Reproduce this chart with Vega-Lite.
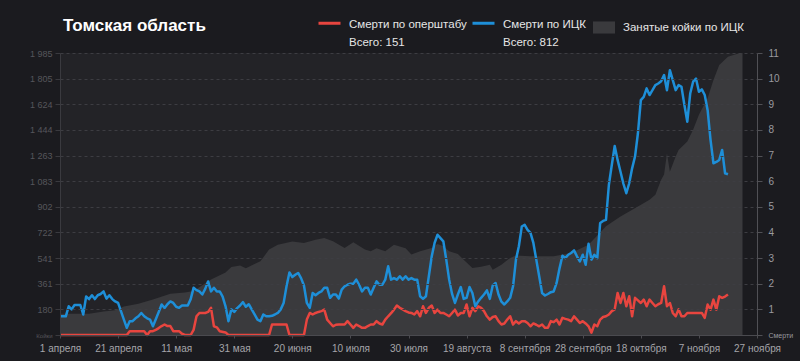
{
  "$schema": "https://vega.github.io/schema/vega-lite/v6.json",
  "width": 697,
  "height": 282,
  "autosize": {"type": "none"},
  "padding": {"left": 60, "top": 53, "right": 43, "bottom": 26},
  "background": "#1b1b1f",
  "title": {"text": "Томская область", "anchor": "start", "frame": "group", "orient": "top", "offset": 0, "fontSize": 17, "fontWeight": "bold", "color": "#ffffff", "font": "Liberation Sans", "dx": 3, "dy": 29},
  "config": {
    "font": "Liberation Sans",
    "view": {"stroke": null},
    "legend": {"padding": 0, "offset": 0},
    "style": {"guide-label": {"lineHeight": 18.5}}
  },
  "datasets": {
    "beds": [
      {"date":"2020-04-01","v":150},{"date":"2020-04-06","v":150},{"date":"2020-04-11","v":150},{"date":"2020-04-16","v":165},{"date":"2020-04-20","v":175},{"date":"2020-04-23","v":200},{"date":"2020-04-28","v":220},{"date":"2020-05-03","v":250},{"date":"2020-05-09","v":290},{"date":"2020-05-14","v":300},{"date":"2020-05-17","v":310},{"date":"2020-05-23","v":390},{"date":"2020-05-28","v":440},{"date":"2020-05-30","v":479},{"date":"2020-06-02","v":490},{"date":"2020-06-04","v":470},{"date":"2020-06-09","v":519},{"date":"2020-06-12","v":601},{"date":"2020-06-15","v":636},{"date":"2020-06-20","v":659},{"date":"2020-06-24","v":648},{"date":"2020-06-28","v":670},{"date":"2020-07-01","v":683},{"date":"2020-07-04","v":660},{"date":"2020-07-08","v":613},{"date":"2020-07-11","v":652},{"date":"2020-07-15","v":601},{"date":"2020-07-17","v":590},{"date":"2020-07-19","v":610},{"date":"2020-07-22","v":589},{"date":"2020-07-25","v":636},{"date":"2020-07-29","v":610},{"date":"2020-07-31","v":566},{"date":"2020-08-03","v":590},{"date":"2020-08-07","v":613},{"date":"2020-08-09","v":640},{"date":"2020-08-11","v":625},{"date":"2020-08-13","v":589},{"date":"2020-08-16","v":570},{"date":"2020-08-18","v":530},{"date":"2020-08-21","v":472},{"date":"2020-08-24","v":480},{"date":"2020-08-27","v":495},{"date":"2020-08-28","v":460},{"date":"2020-08-31","v":495},{"date":"2020-09-03","v":542},{"date":"2020-09-05","v":560},{"date":"2020-09-10","v":554},{"date":"2020-09-18","v":554},{"date":"2020-09-24","v":577},{"date":"2020-09-30","v":636},{"date":"2020-10-06","v":765},{"date":"2020-10-11","v":835},{"date":"2020-10-17","v":905},{"date":"2020-10-21","v":952},{"date":"2020-10-23","v":987},{"date":"2020-10-25","v":1093},{"date":"2020-10-26","v":1130},{"date":"2020-10-27","v":1280},{"date":"2020-10-28","v":1150},{"date":"2020-10-30","v":1257},{"date":"2020-10-31","v":1303},{"date":"2020-11-03","v":1362},{"date":"2020-11-05","v":1444},{"date":"2020-11-07","v":1550},{"date":"2020-11-10","v":1667},{"date":"2020-11-12","v":1795},{"date":"2020-11-14","v":1901},{"date":"2020-11-17","v":1959},{"date":"2020-11-20","v":1978},{"date":"2020-11-22","v":1985}
    ],
    "ops": [
      {"date":"2020-04-01","v":0},{"date":"2020-04-24","v":0},{"date":"2020-04-25","v":0.15},{"date":"2020-04-30","v":0.15},{"date":"2020-05-01","v":0},{"date":"2020-05-02","v":0.15},{"date":"2020-05-03","v":0.15},{"date":"2020-05-04","v":0.2},{"date":"2020-05-05","v":0.27},{"date":"2020-05-06","v":0.35},{"date":"2020-05-07","v":0.41},{"date":"2020-05-08","v":0.35},{"date":"2020-05-09","v":0.35},{"date":"2020-05-10","v":0.15},{"date":"2020-05-12","v":0.15},{"date":"2020-05-13","v":0.05},{"date":"2020-05-14","v":0},{"date":"2020-05-16","v":0},{"date":"2020-05-17","v":0.2},{"date":"2020-05-18","v":0.73},{"date":"2020-05-19","v":0.86},{"date":"2020-05-21","v":0.86},{"date":"2020-05-22","v":0.9},{"date":"2020-05-23","v":1.06},{"date":"2020-05-24","v":0.34},{"date":"2020-05-25","v":0.3},{"date":"2020-05-26","v":0.15},{"date":"2020-05-28","v":0.1},{"date":"2020-05-29","v":0},{"date":"2020-06-12","v":0},{"date":"2020-06-13","v":0.41},{"date":"2020-06-18","v":0.41},{"date":"2020-06-19","v":0},{"date":"2020-06-24","v":0},{"date":"2020-06-25","v":0.6},{"date":"2020-06-26","v":0.86},{"date":"2020-06-27","v":0.8},{"date":"2020-06-28","v":0.86},{"date":"2020-06-29","v":0.9},{"date":"2020-06-30","v":0.93},{"date":"2020-07-01","v":0.99},{"date":"2020-07-02","v":0.6},{"date":"2020-07-03","v":0.47},{"date":"2020-07-04","v":0.34},{"date":"2020-07-05","v":0.4},{"date":"2020-07-06","v":0.41},{"date":"2020-07-08","v":0.41},{"date":"2020-07-09","v":0.54},{"date":"2020-07-10","v":0.41},{"date":"2020-07-11","v":0.28},{"date":"2020-07-12","v":0.41},{"date":"2020-07-13","v":0.35},{"date":"2020-07-14","v":0.28},{"date":"2020-07-15","v":0.28},{"date":"2020-07-16","v":0.35},{"date":"2020-07-17","v":0.41},{"date":"2020-07-18","v":0.41},{"date":"2020-07-19","v":0.54},{"date":"2020-07-20","v":0.45},{"date":"2020-07-21","v":0.41},{"date":"2020-07-22","v":0.6},{"date":"2020-07-23","v":0.73},{"date":"2020-07-24","v":0.85},{"date":"2020-07-25","v":0.99},{"date":"2020-07-26","v":1.15},{"date":"2020-07-27","v":1.06},{"date":"2020-07-28","v":1.0},{"date":"2020-07-29","v":0.93},{"date":"2020-07-30","v":0.88},{"date":"2020-07-31","v":0.86},{"date":"2020-08-01","v":0.8},{"date":"2020-08-02","v":0.93},{"date":"2020-08-03","v":0.73},{"date":"2020-08-04","v":1.12},{"date":"2020-08-05","v":0.86},{"date":"2020-08-06","v":1.06},{"date":"2020-08-07","v":1.15},{"date":"2020-08-08","v":0.86},{"date":"2020-08-09","v":0.99},{"date":"2020-08-10","v":0.86},{"date":"2020-08-11","v":0.86},{"date":"2020-08-12","v":0.8},{"date":"2020-08-13","v":0.73},{"date":"2020-08-14","v":0.86},{"date":"2020-08-15","v":0.99},{"date":"2020-08-16","v":0.76},{"date":"2020-08-17","v":0.86},{"date":"2020-08-18","v":0.86},{"date":"2020-08-19","v":1.19},{"date":"2020-08-20","v":0.73},{"date":"2020-08-21","v":1.06},{"date":"2020-08-22","v":0.93},{"date":"2020-08-23","v":1.12},{"date":"2020-08-24","v":1.06},{"date":"2020-08-25","v":0.93},{"date":"2020-08-26","v":0.73},{"date":"2020-08-27","v":0.6},{"date":"2020-08-28","v":0.7},{"date":"2020-08-29","v":0.73},{"date":"2020-08-30","v":0.54},{"date":"2020-08-31","v":0.41},{"date":"2020-09-01","v":0.45},{"date":"2020-09-02","v":0.6},{"date":"2020-09-03","v":0.73},{"date":"2020-09-04","v":0.41},{"date":"2020-09-05","v":0.54},{"date":"2020-09-06","v":0.45},{"date":"2020-09-07","v":0.54},{"date":"2020-09-08","v":0.54},{"date":"2020-09-09","v":0.47},{"date":"2020-09-10","v":0.34},{"date":"2020-09-11","v":0.45},{"date":"2020-09-12","v":0.4},{"date":"2020-09-13","v":0.34},{"date":"2020-09-14","v":0.41},{"date":"2020-09-15","v":0.28},{"date":"2020-09-16","v":0.28},{"date":"2020-09-17","v":0.54},{"date":"2020-09-18","v":0.5},{"date":"2020-09-19","v":0.6},{"date":"2020-09-20","v":0.41},{"date":"2020-09-21","v":0.67},{"date":"2020-09-22","v":0.63},{"date":"2020-09-23","v":0.6},{"date":"2020-09-24","v":0.54},{"date":"2020-09-25","v":0.73},{"date":"2020-09-26","v":0.6},{"date":"2020-09-27","v":0.47},{"date":"2020-09-28","v":0.54},{"date":"2020-09-29","v":0.45},{"date":"2020-09-30","v":0.34},{"date":"2020-10-01","v":0.09},{"date":"2020-10-02","v":0.41},{"date":"2020-10-03","v":0.34},{"date":"2020-10-04","v":0.6},{"date":"2020-10-05","v":0.7},{"date":"2020-10-06","v":0.73},{"date":"2020-10-07","v":0.8},{"date":"2020-10-08","v":0.93},{"date":"2020-10-09","v":1.0},{"date":"2020-10-10","v":1.64},{"date":"2020-10-11","v":1.25},{"date":"2020-10-12","v":1.64},{"date":"2020-10-13","v":1.12},{"date":"2020-10-14","v":1.51},{"date":"2020-10-15","v":0.73},{"date":"2020-10-16","v":1.45},{"date":"2020-10-17","v":1.35},{"date":"2020-10-18","v":1.25},{"date":"2020-10-19","v":1.38},{"date":"2020-10-20","v":1.12},{"date":"2020-10-21","v":1.38},{"date":"2020-10-22","v":1.25},{"date":"2020-10-23","v":1.12},{"date":"2020-10-24","v":1.2},{"date":"2020-10-25","v":1.25},{"date":"2020-10-26","v":1.9},{"date":"2020-10-27","v":1.12},{"date":"2020-10-28","v":1.25},{"date":"2020-10-29","v":0.86},{"date":"2020-10-30","v":0.73},{"date":"2020-10-31","v":1.0},{"date":"2020-11-01","v":0.73},{"date":"2020-11-02","v":0.73},{"date":"2020-11-03","v":0.86},{"date":"2020-11-08","v":0.86},{"date":"2020-11-09","v":0.67},{"date":"2020-11-10","v":1.19},{"date":"2020-11-11","v":0.99},{"date":"2020-11-12","v":1.38},{"date":"2020-11-13","v":0.99},{"date":"2020-11-14","v":1.51},{"date":"2020-11-15","v":1.45},{"date":"2020-11-16","v":1.5},{"date":"2020-11-17","v":1.58}
    ],
    "ick": [
      {"date":"2020-04-01","v":0.73},{"date":"2020-04-03","v":0.73},{"date":"2020-04-04","v":1.12},{"date":"2020-04-05","v":1.0},{"date":"2020-04-06","v":1.17},{"date":"2020-04-08","v":1.17},{"date":"2020-04-09","v":0.8},{"date":"2020-04-10","v":1.5},{"date":"2020-04-11","v":1.4},{"date":"2020-04-12","v":1.55},{"date":"2020-04-13","v":1.4},{"date":"2020-04-14","v":1.55},{"date":"2020-04-15","v":1.6},{"date":"2020-04-16","v":1.7},{"date":"2020-04-17","v":1.42},{"date":"2020-04-18","v":1.55},{"date":"2020-04-19","v":1.4},{"date":"2020-04-20","v":1.31},{"date":"2020-04-21","v":1.25},{"date":"2020-04-23","v":0.6},{"date":"2020-04-24","v":0.28},{"date":"2020-04-25","v":0.54},{"date":"2020-04-26","v":0.54},{"date":"2020-04-27","v":0.65},{"date":"2020-04-28","v":0.73},{"date":"2020-04-29","v":0.86},{"date":"2020-04-30","v":0.73},{"date":"2020-05-01","v":0.65},{"date":"2020-05-02","v":0.6},{"date":"2020-05-03","v":0.34},{"date":"2020-05-05","v":0.9},{"date":"2020-05-06","v":1.19},{"date":"2020-05-07","v":1.05},{"date":"2020-05-08","v":1.2},{"date":"2020-05-09","v":1.31},{"date":"2020-05-10","v":1.25},{"date":"2020-05-11","v":1.1},{"date":"2020-05-12","v":1.06},{"date":"2020-05-13","v":1.15},{"date":"2020-05-15","v":1.15},{"date":"2020-05-16","v":1.4},{"date":"2020-05-17","v":1.84},{"date":"2020-05-18","v":1.75},{"date":"2020-05-19","v":1.7},{"date":"2020-05-20","v":1.58},{"date":"2020-05-21","v":1.8},{"date":"2020-05-22","v":2.09},{"date":"2020-05-23","v":1.7},{"date":"2020-05-24","v":1.84},{"date":"2020-05-25","v":1.7},{"date":"2020-05-26","v":1.7},{"date":"2020-05-27","v":1.5},{"date":"2020-05-28","v":1.12},{"date":"2020-05-29","v":0.54},{"date":"2020-05-30","v":1.0},{"date":"2020-05-31","v":0.9},{"date":"2020-06-01","v":1.05},{"date":"2020-06-02","v":1.15},{"date":"2020-06-03","v":1.28},{"date":"2020-06-04","v":1.1},{"date":"2020-06-05","v":1.2},{"date":"2020-06-06","v":1.0},{"date":"2020-06-07","v":0.8},{"date":"2020-06-08","v":0.6},{"date":"2020-06-09","v":0.54},{"date":"2020-06-10","v":0.8},{"date":"2020-06-11","v":0.73},{"date":"2020-06-12","v":0.73},{"date":"2020-06-13","v":0.75},{"date":"2020-06-14","v":0.8},{"date":"2020-06-15","v":0.86},{"date":"2020-06-16","v":1.0},{"date":"2020-06-17","v":1.25},{"date":"2020-06-18","v":1.9},{"date":"2020-06-19","v":2.44},{"date":"2020-06-20","v":2.26},{"date":"2020-06-21","v":2.35},{"date":"2020-06-22","v":2.42},{"date":"2020-06-23","v":2.22},{"date":"2020-06-24","v":1.93},{"date":"2020-06-25","v":1.25},{"date":"2020-06-26","v":1.06},{"date":"2020-06-27","v":1.64},{"date":"2020-06-28","v":1.55},{"date":"2020-06-29","v":1.64},{"date":"2020-06-30","v":1.7},{"date":"2020-07-01","v":1.84},{"date":"2020-07-02","v":1.84},{"date":"2020-07-03","v":1.45},{"date":"2020-07-04","v":1.58},{"date":"2020-07-05","v":1.58},{"date":"2020-07-06","v":1.42},{"date":"2020-07-07","v":1.77},{"date":"2020-07-08","v":1.9},{"date":"2020-07-09","v":1.96},{"date":"2020-07-10","v":2.0},{"date":"2020-07-11","v":2.0},{"date":"2020-07-12","v":2.16},{"date":"2020-07-13","v":1.96},{"date":"2020-07-14","v":1.7},{"date":"2020-07-15","v":1.84},{"date":"2020-07-16","v":1.84},{"date":"2020-07-17","v":1.58},{"date":"2020-07-18","v":1.84},{"date":"2020-07-19","v":2.09},{"date":"2020-07-20","v":1.96},{"date":"2020-07-21","v":1.96},{"date":"2020-07-22","v":2.16},{"date":"2020-07-23","v":2.68},{"date":"2020-07-24","v":2.16},{"date":"2020-07-25","v":2.22},{"date":"2020-07-26","v":2.16},{"date":"2020-07-27","v":2.29},{"date":"2020-07-28","v":2.16},{"date":"2020-07-29","v":2.29},{"date":"2020-07-30","v":2.16},{"date":"2020-07-31","v":2.22},{"date":"2020-08-01","v":2.16},{"date":"2020-08-02","v":2.16},{"date":"2020-08-03","v":1.51},{"date":"2020-08-04","v":1.41},{"date":"2020-08-05","v":1.51},{"date":"2020-08-06","v":2.29},{"date":"2020-08-07","v":3.07},{"date":"2020-08-08","v":3.6},{"date":"2020-08-09","v":3.91},{"date":"2020-08-10","v":3.78},{"date":"2020-08-11","v":3.65},{"date":"2020-08-12","v":2.94},{"date":"2020-08-13","v":2.16},{"date":"2020-08-14","v":1.6},{"date":"2020-08-15","v":1.25},{"date":"2020-08-16","v":1.58},{"date":"2020-08-17","v":1.87},{"date":"2020-08-18","v":1.41},{"date":"2020-08-19","v":1.45},{"date":"2020-08-20","v":1.87},{"date":"2020-08-21","v":1.64},{"date":"2020-08-22","v":1.12},{"date":"2020-08-23","v":1.31},{"date":"2020-08-24","v":1.45},{"date":"2020-08-25","v":1.58},{"date":"2020-08-26","v":1.74},{"date":"2020-08-27","v":1.41},{"date":"2020-08-28","v":1.93},{"date":"2020-08-29","v":2.03},{"date":"2020-08-30","v":1.58},{"date":"2020-08-31","v":1.3},{"date":"2020-09-01","v":1.19},{"date":"2020-09-02","v":1.31},{"date":"2020-09-03","v":1.45},{"date":"2020-09-04","v":1.9},{"date":"2020-09-05","v":2.94},{"date":"2020-09-06","v":3.46},{"date":"2020-09-07","v":4.23},{"date":"2020-09-08","v":4.3},{"date":"2020-09-09","v":4.1},{"date":"2020-09-10","v":3.98},{"date":"2020-09-11","v":3.59},{"date":"2020-09-12","v":2.94},{"date":"2020-09-13","v":2.29},{"date":"2020-09-14","v":1.64},{"date":"2020-09-15","v":1.54},{"date":"2020-09-16","v":1.6},{"date":"2020-09-17","v":1.67},{"date":"2020-09-18","v":1.7},{"date":"2020-09-19","v":2.03},{"date":"2020-09-20","v":2.6},{"date":"2020-09-21","v":3.09},{"date":"2020-09-22","v":3.0},{"date":"2020-09-23","v":3.13},{"date":"2020-09-24","v":3.2},{"date":"2020-09-25","v":3.3},{"date":"2020-09-26","v":3.07},{"date":"2020-09-27","v":2.87},{"date":"2020-09-28","v":3.13},{"date":"2020-09-29","v":2.74},{"date":"2020-09-30","v":3.56},{"date":"2020-10-01","v":2.94},{"date":"2020-10-02","v":3.13},{"date":"2020-10-03","v":3.0},{"date":"2020-10-04","v":4.37},{"date":"2020-10-05","v":4.45},{"date":"2020-10-06","v":4.49},{"date":"2020-10-07","v":5.86},{"date":"2020-10-08","v":6.63},{"date":"2020-10-09","v":7.37},{"date":"2020-10-10","v":6.83},{"date":"2020-10-11","v":6.37},{"date":"2020-10-12","v":5.9},{"date":"2020-10-13","v":5.53},{"date":"2020-10-14","v":5.92},{"date":"2020-10-15","v":6.5},{"date":"2020-10-16","v":6.96},{"date":"2020-10-17","v":7.87},{"date":"2020-10-18","v":9.16},{"date":"2020-10-19","v":9.29},{"date":"2020-10-20","v":9.62},{"date":"2020-10-21","v":9.36},{"date":"2020-10-22","v":9.55},{"date":"2020-10-23","v":9.75},{"date":"2020-10-24","v":9.81},{"date":"2020-10-25","v":9.9},{"date":"2020-10-26","v":10.14},{"date":"2020-10-27","v":9.55},{"date":"2020-10-28","v":10.33},{"date":"2020-10-29","v":9.94},{"date":"2020-10-30","v":9.55},{"date":"2020-10-31","v":9.75},{"date":"2020-11-01","v":9.68},{"date":"2020-11-02","v":8.97},{"date":"2020-11-03","v":8.32},{"date":"2020-11-04","v":9.42},{"date":"2020-11-05","v":9.88},{"date":"2020-11-06","v":10.0},{"date":"2020-11-07","v":9.49},{"date":"2020-11-08","v":9.58},{"date":"2020-11-09","v":9.36},{"date":"2020-11-10","v":8.77},{"date":"2020-11-11","v":7.61},{"date":"2020-11-12","v":6.7},{"date":"2020-11-13","v":6.75},{"date":"2020-11-14","v":6.83},{"date":"2020-11-15","v":7.22},{"date":"2020-11-16","v":6.31},{"date":"2020-11-17","v":6.27}
    ]
  },
  "layer": [
    {
      "data": {"values": [{}]},
      "mark": {"type": "rect", "color": "#232327"},
      "encoding": {
        "x": {"datum": {"year": 2020, "month": 4, "date": 1, "utc": true}, "type": "temporal",
          "scale": {"type": "utc", "domain": [{"year": 2020, "month": 4, "date": 1, "utc": true}, {"year": 2020, "month": 11, "date": 27, "utc": true}]},
          "axis": {"values": [{"year":2020,"month":4,"date":1,"utc":true},{"year":2020,"month":4,"date":21,"utc":true},{"year":2020,"month":5,"date":11,"utc":true},{"year":2020,"month":5,"date":31,"utc":true},{"year":2020,"month":6,"date":20,"utc":true},{"year":2020,"month":7,"date":10,"utc":true},{"year":2020,"month":7,"date":30,"utc":true},{"year":2020,"month":8,"date":19,"utc":true},{"year":2020,"month":9,"date":8,"utc":true},{"year":2020,"month":9,"date":28,"utc":true},{"year":2020,"month":10,"date":18,"utc":true},{"year":2020,"month":11,"date":7,"utc":true},{"year":2020,"month":11,"date":27,"utc":true}],
            "labelExpr": "utcdate(datum.value) + ' ' + ['января','февраля','марта','апреля','мая','июня','июля','августа','сентября','октября','ноября','декабря'][utcmonth(datum.value)]",
            "labelFontSize": 10, "labelColor": "#a5a5aa", "labelFlush": false, "labelOverlap": false, "domainColor": "#4a4a4f", "tickColor": "#4a4a4f", "tickSize": 3, "labelPadding": 5, "grid": false, "title": null, "zindex": 1}},
        "x2": {"datum": {"year": 2020, "month": 11, "date": 22, "utc": true}}
      }
    },
    {
      "data": {"name": "beds"},
      "mark": {"type": "area", "color": "#38383b", "opacity": 1},
      "encoding": {
        "x": {"field": "date", "type": "temporal",
          "scale": {"type": "utc", "domain": [{"year": 2020, "month": 4, "date": 1, "utc": true}, {"year": 2020, "month": 11, "date": 27, "utc": true}]},
          "axis": {"values": [{"year":2020,"month":4,"date":1,"utc":true},{"year":2020,"month":4,"date":21,"utc":true},{"year":2020,"month":5,"date":11,"utc":true},{"year":2020,"month":5,"date":31,"utc":true},{"year":2020,"month":6,"date":20,"utc":true},{"year":2020,"month":7,"date":10,"utc":true},{"year":2020,"month":7,"date":30,"utc":true},{"year":2020,"month":8,"date":19,"utc":true},{"year":2020,"month":9,"date":8,"utc":true},{"year":2020,"month":9,"date":28,"utc":true},{"year":2020,"month":10,"date":18,"utc":true},{"year":2020,"month":11,"date":7,"utc":true},{"year":2020,"month":11,"date":27,"utc":true}],
            "labelExpr": "utcdate(datum.value) + ' ' + ['января','февраля','марта','апреля','мая','июня','июля','августа','сентября','октября','ноября','декабря'][utcmonth(datum.value)]",
            "labelFontSize": 10, "labelColor": "#a5a5aa", "labelFlush": false, "labelOverlap": false, "domainColor": "#4a4a4f", "tickColor": "#4a4a4f", "tickSize": 3, "labelPadding": 5, "grid": false, "title": null, "zindex": 1}},
        "y": {"field": "v", "type": "quantitative", "scale": {"domain": [0, 1985], "nice": false, "zero": true},
          "axis": {"orient": "left", "values": [0, 180.4545, 360.9091, 541.3636, 721.8182, 902.2727, 1082.7273, 1263.1818, 1443.6364, 1624.0909, 1804.5455, 1985],
            "labelExpr": "datum.value == 0 ? 'Койки' : replace(format(datum.value, ',.0f'), ',', ' ')",
            "labelFontSize": {"condition": {"test": "datum.value == 0", "value": 6}, "value": 9},
            "labelColor": "#56565b", "grid": true, "gridColor": "#3d3d42", "gridDash": [3, 3], "gridWidth": 1,
            "domainColor": "#3a3a3f", "tickColor": "#3a3a3f", "tickSize": 5, "labelPadding": 3, "title": null, "zindex": 1}},
        "fill": {"datum": "Занятые койки по ИЦК", "type": "nominal", "scale": {"range": ["#3a3a3d"]},
          "legend": {"orient": "none", "legendX": 533, "legendY": -36.5, "title": null, "symbolType": "M-1,-0.55H1V0.55H-1Z", "symbolSize": 484, "symbolStrokeWidth": 0, "symbolOpacity": 1, "labelFontSize": 11.5, "labelColor": "#e6e6e6", "labelOffset": 8, "labelLimit": 300}}
      }
    },
    {
      "layer": [
        {
          "data": {"name": "ops"},
          "mark": {"type": "line", "strokeWidth": 2.5, "strokeJoin": "round"},
          "encoding": {
            "x": {"field": "date", "type": "temporal",
              "scale": {"type": "utc", "domain": [{"year": 2020, "month": 4, "date": 1, "utc": true}, {"year": 2020, "month": 11, "date": 27, "utc": true}]},
              "axis": {"values": [{"year":2020,"month":4,"date":1,"utc":true},{"year":2020,"month":4,"date":21,"utc":true},{"year":2020,"month":5,"date":11,"utc":true},{"year":2020,"month":5,"date":31,"utc":true},{"year":2020,"month":6,"date":20,"utc":true},{"year":2020,"month":7,"date":10,"utc":true},{"year":2020,"month":7,"date":30,"utc":true},{"year":2020,"month":8,"date":19,"utc":true},{"year":2020,"month":9,"date":8,"utc":true},{"year":2020,"month":9,"date":28,"utc":true},{"year":2020,"month":10,"date":18,"utc":true},{"year":2020,"month":11,"date":7,"utc":true},{"year":2020,"month":11,"date":27,"utc":true}],
                "labelExpr": "utcdate(datum.value) + ' ' + ['января','февраля','марта','апреля','мая','июня','июля','августа','сентября','октября','ноября','декабря'][utcmonth(datum.value)]",
                "labelFontSize": 10, "labelColor": "#a5a5aa", "labelFlush": false, "labelOverlap": false, "domainColor": "#4a4a4f", "tickColor": "#4a4a4f", "tickSize": 3, "labelPadding": 5, "grid": false, "title": null, "zindex": 1}},
            "y": {"field": "v", "type": "quantitative", "scale": {"domain": [0, 11], "nice": false},
              "axis": {"orient": "right", "values": [0,1,2,3,4,5,6,7,8,9,10,11],
                "labelExpr": "datum.value == 0 ? 'Смерти' : datum.label",
                "labelFontSize": {"condition": {"test": "datum.value == 0", "value": 7}, "value": 10},
                "labelColor": "#9a9a9f", "grid": false, "domainColor": "#505055", "tickColor": "#505055", "tickSize": 5, "labelPadding": 6, "title": null, "zindex": 1}},
            "color": {"datum": "Смерти по оперштабу", "type": "nominal",
              "scale": {"domain": ["Смерти по оперштабу", "Смерти по ИЦК"], "range": ["#e8453f", "#1e8fd8"]},
              "legend": {"orient": "none", "legendX": 257, "legendY": -47, "direction": "horizontal", "title": null, "symbolType": "M-1,0.41H1", "symbolSize": 484, "symbolStrokeWidth": 3,
                "labelExpr": "datum.label == 'Смерти по оперштабу' ? ['Смерти по оперштабу', 'Всего: 151'] : ['Смерти по ИЦК', 'Всего: 812']",
                "labelBaseline": "top", "labelFontSize": 11.5, "labelColor": "#e6e6e6", "labelOffset": 7, "columnPadding": -1, "labelLimit": 300}}
          }
        },
        {
          "data": {"name": "ick"},
          "mark": {"type": "line", "strokeWidth": 2.5, "strokeJoin": "round"},
          "encoding": {
            "x": {"field": "date", "type": "temporal",
              "scale": {"type": "utc", "domain": [{"year": 2020, "month": 4, "date": 1, "utc": true}, {"year": 2020, "month": 11, "date": 27, "utc": true}]},
              "axis": {"values": [{"year":2020,"month":4,"date":1,"utc":true},{"year":2020,"month":4,"date":21,"utc":true},{"year":2020,"month":5,"date":11,"utc":true},{"year":2020,"month":5,"date":31,"utc":true},{"year":2020,"month":6,"date":20,"utc":true},{"year":2020,"month":7,"date":10,"utc":true},{"year":2020,"month":7,"date":30,"utc":true},{"year":2020,"month":8,"date":19,"utc":true},{"year":2020,"month":9,"date":8,"utc":true},{"year":2020,"month":9,"date":28,"utc":true},{"year":2020,"month":10,"date":18,"utc":true},{"year":2020,"month":11,"date":7,"utc":true},{"year":2020,"month":11,"date":27,"utc":true}],
                "labelExpr": "utcdate(datum.value) + ' ' + ['января','февраля','марта','апреля','мая','июня','июля','августа','сентября','октября','ноября','декабря'][utcmonth(datum.value)]",
                "labelFontSize": 10, "labelColor": "#a5a5aa", "labelFlush": false, "labelOverlap": false, "domainColor": "#4a4a4f", "tickColor": "#4a4a4f", "tickSize": 3, "labelPadding": 5, "grid": false, "title": null, "zindex": 1}},
            "y": {"field": "v", "type": "quantitative", "scale": {"domain": [0, 11], "nice": false},
              "axis": {"orient": "right", "values": [0,1,2,3,4,5,6,7,8,9,10,11],
                "labelExpr": "datum.value == 0 ? 'Смерти' : datum.label",
                "labelFontSize": {"condition": {"test": "datum.value == 0", "value": 7}, "value": 10},
                "labelColor": "#9a9a9f", "grid": false, "domainColor": "#505055", "tickColor": "#505055", "tickSize": 5, "labelPadding": 6, "title": null, "zindex": 1}},
            "color": {"datum": "Смерти по ИЦК", "type": "nominal",
              "scale": {"domain": ["Смерти по оперштабу", "Смерти по ИЦК"], "range": ["#e8453f", "#1e8fd8"]},
              "legend": {"orient": "none", "legendX": 257, "legendY": -47, "direction": "horizontal", "title": null, "symbolType": "M-1,0.41H1", "symbolSize": 484, "symbolStrokeWidth": 3,
                "labelExpr": "datum.label == 'Смерти по оперштабу' ? ['Смерти по оперштабу', 'Всего: 151'] : ['Смерти по ИЦК', 'Всего: 812']",
                "labelBaseline": "top", "labelFontSize": 11.5, "labelColor": "#e6e6e6", "labelOffset": 7, "columnPadding": -1, "labelLimit": 300}}
          }
        }
      ]
    }
  ],
  "resolve": {"scale": {"y": "independent"}}
}
